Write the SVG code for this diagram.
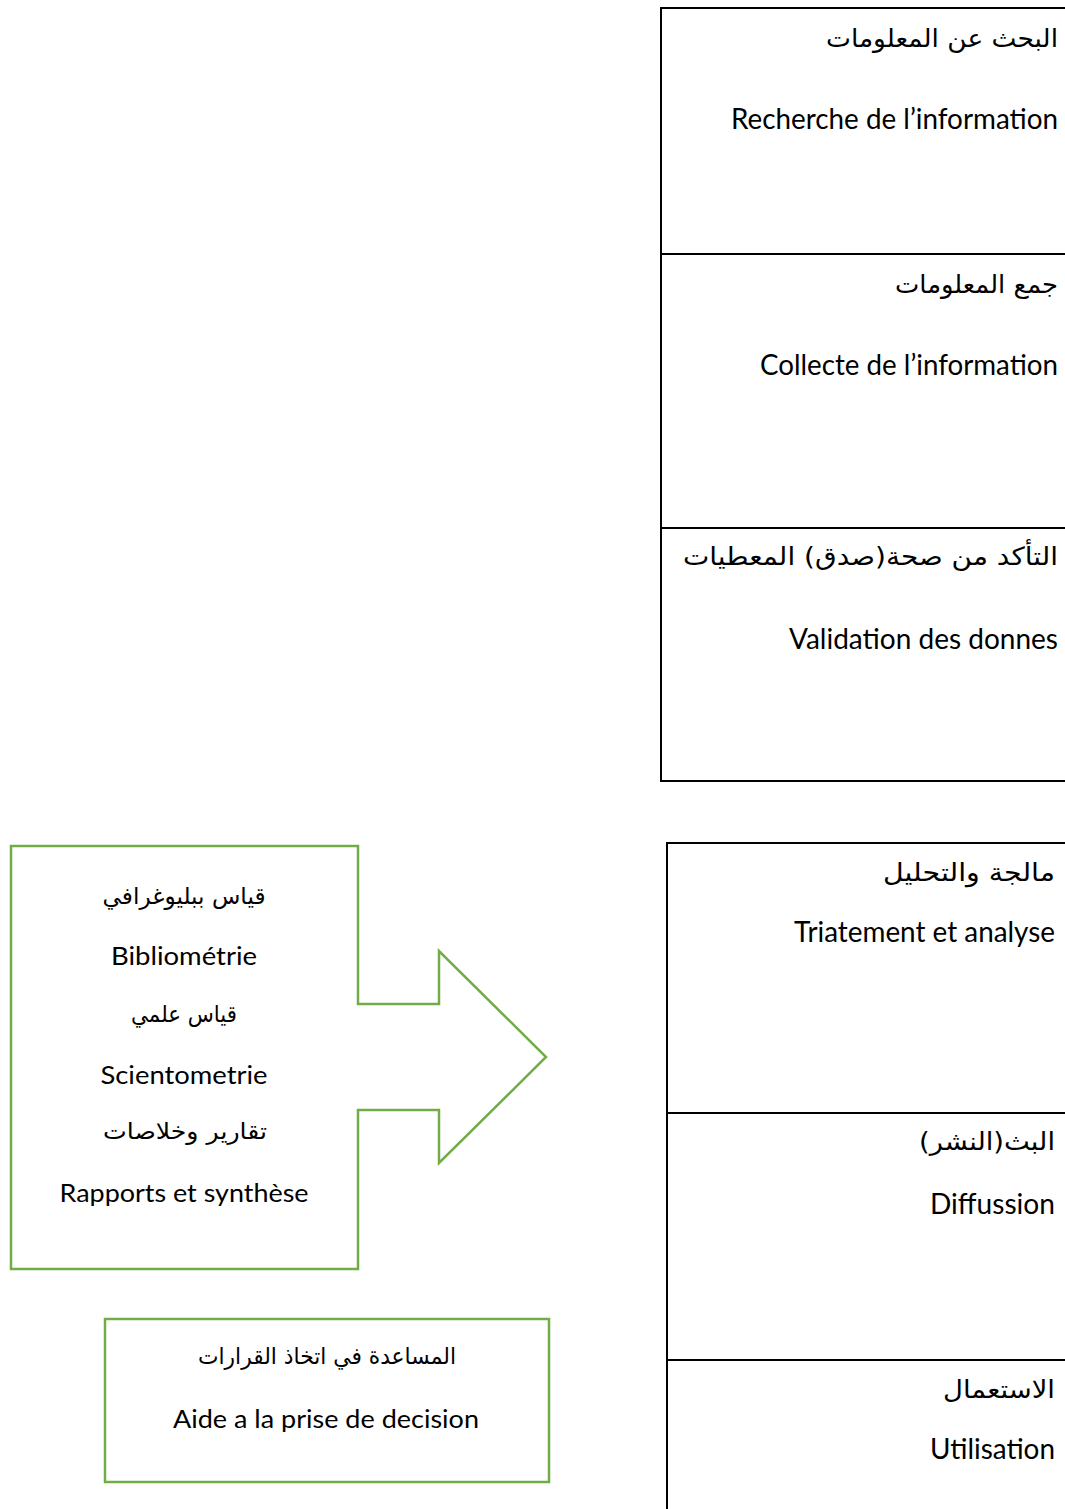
<svg xmlns="http://www.w3.org/2000/svg" width="1065" height="1509" viewBox="0 0 1065 1509">
  <style>
    .cell { fill: #ffffff; stroke: #000000; stroke-width: 2; }
    .sep { stroke: #000000; stroke-width: 2; }
    .green { fill: #ffffff; stroke: #70AD47; stroke-width: 2.5; stroke-linejoin: miter; }
    .ar { font-family: "DejaVu Sans", "Noto Sans", sans-serif; font-size: 25px; fill: #000000; }
    .fr { font-family: Lato, "Open Sans", sans-serif; font-size: 28px; fill: #000000; }
    .frs { font-family: Lato, "Open Sans", sans-serif; font-size: 25px; fill: #000000; }
    .ars { font-family: "DejaVu Sans", "Noto Sans", sans-serif; font-size: 23px; fill: #000000; }
  </style>
  <rect width="1065" height="1509" fill="#ffffff"/>

  <!-- Upper process table -->
  <g id="table-top">
    <rect class="cell" x="661" y="8" width="420" height="773"/>
    <line class="sep" x1="661" y1="254" x2="1065" y2="254"/>
    <line class="sep" x1="661" y1="528" x2="1065" y2="528"/>
  </g>
  <!-- rtl labels: text-anchor start = right edge -->
  <g id="step-recherche">
    <text class="ar" x="1058" y="47" text-anchor="start" direction="rtl" textLength="232" lengthAdjust="spacingAndGlyphs">البحث عن المعلومات</text>
    <text class="fr" x="1058" y="129" text-anchor="end" textLength="327" lengthAdjust="spacingAndGlyphs">Recherche de l’information</text>
  </g>
  <g id="step-collecte">
    <text class="ar" x="1058" y="293" text-anchor="start" direction="rtl" textLength="163" lengthAdjust="spacingAndGlyphs">جمع المعلومات</text>
    <text class="fr" x="1058" y="375" text-anchor="end" textLength="298" lengthAdjust="spacingAndGlyphs">Collecte de l’information</text>
  </g>
  <g id="step-validation">
    <text class="ar" x="1058" y="565" text-anchor="start" direction="rtl" textLength="375" lengthAdjust="spacingAndGlyphs">التأكد من صحة(صدق) المعطيات</text>
    <text class="fr" x="1058" y="649" text-anchor="end" textLength="269" lengthAdjust="spacingAndGlyphs">Validation des donnes</text>
  </g>

  <!-- Lower process table -->
  <g id="table-bottom">
    <rect class="cell" x="667" y="843" width="420" height="700"/>
    <line class="sep" x1="667" y1="1113" x2="1065" y2="1113"/>
    <line class="sep" x1="667" y1="1360" x2="1065" y2="1360"/>
  </g>
  <g id="step-traitement">
    <text class="ar" x="1055" y="881" text-anchor="start" direction="rtl" textLength="172" lengthAdjust="spacingAndGlyphs">مالجة والتحليل</text>
    <text class="fr" x="1055" y="942" text-anchor="end" textLength="261" lengthAdjust="spacingAndGlyphs">Triatement et analyse</text>
  </g>
  <g id="step-diffusion">
    <text class="ar" x="1055" y="1150" text-anchor="start" direction="rtl" textLength="136" lengthAdjust="spacingAndGlyphs">البث(النشر)</text>
    <text class="fr" x="1055" y="1214" text-anchor="end" textLength="125" lengthAdjust="spacingAndGlyphs">Diffussion</text>
  </g>
  <g id="step-utilisation">
    <text class="ar" x="1055" y="1398" text-anchor="start" direction="rtl" textLength="112" lengthAdjust="spacingAndGlyphs">الاستعمال</text>
    <text class="fr" x="1055" y="1459" text-anchor="end" textLength="125" lengthAdjust="spacingAndGlyphs">Utilisation</text>
  </g>

  <!-- Arrow callout: metrics box pointing right -->
  <g id="metrics-callout">
    <path class="green" d="M11,846 H358 V1004 H439 V951 L546,1057 L439,1163 V1110 H358 V1269 H11 Z"/>
    <text class="ars" x="184" y="904" text-anchor="middle" direction="rtl" textLength="163" lengthAdjust="spacingAndGlyphs">قياس ببليوغرافي</text>
    <text class="frs" x="184" y="965" text-anchor="middle" textLength="146" lengthAdjust="spacingAndGlyphs">Bibliométrie</text>
    <text class="ars" x="184" y="1022" text-anchor="middle" direction="rtl" textLength="106" lengthAdjust="spacingAndGlyphs">قياس علمي</text>
    <text class="frs" x="184" y="1084" text-anchor="middle" textLength="167" lengthAdjust="spacingAndGlyphs">Scientometrie</text>
    <text class="ars" x="185" y="1139" text-anchor="middle" direction="rtl" textLength="164" lengthAdjust="spacingAndGlyphs">تقارير وخلاصات</text>
    <text class="frs" x="184" y="1202" text-anchor="middle" textLength="249" lengthAdjust="spacingAndGlyphs">Rapports et synthèse</text>
  </g>

  <!-- Decision support box -->
  <g id="decision-box">
    <rect class="green" x="105" y="1319" width="444" height="163"/>
    <text class="ars" x="327" y="1364" text-anchor="middle" direction="rtl" textLength="258" lengthAdjust="spacingAndGlyphs">المساعدة في اتخاذ القرارات</text>
    <text class="frs" x="326" y="1428" text-anchor="middle" textLength="306" lengthAdjust="spacingAndGlyphs">Aide a la prise de decision</text>
  </g>

  <g id="connectors"/>
</svg>
